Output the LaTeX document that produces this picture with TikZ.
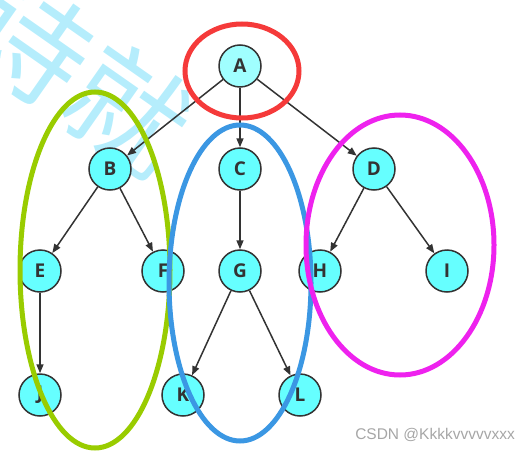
\documentclass[tikz,border=0pt]{standalone}
\usepackage{fontspec}
\setmainfont{Open Sans}
\newfontfamily\cjk{Noto Sans CJK SC}
\newfontfamily\wmfont{Liberation Sans}
\usetikzlibrary{arrows.meta}
\definecolor{nodefill}{HTML}{66FFFF}
\definecolor{rootfill}{HTML}{A0FFFF}
\definecolor{edgecol}{HTML}{333333}
\definecolor{redring}{HTML}{F53A3A}
\definecolor{greenring}{HTML}{99CC00}
\definecolor{bluering}{HTML}{3B97E3}
\definecolor{magring}{HTML}{EE22EE}
\definecolor{wmblue}{HTML}{B5EDFC}
\tikzset{
  vertex/.style={circle, draw=edgecol, line width=1.5pt, fill=nodefill,
    minimum size=42pt, inner sep=0pt, font=\bfseries\fontsize{19}{19}\selectfont, text=edgecol},
  edge/.style={draw=edgecol, line width=1.5pt, -{Triangle[length=9pt,width=7pt]}},
  ring/.style={line width=5pt},
}
\begin{document}
\begin{tikzpicture}[x=1pt,y=-1pt]
\useasboundingbox (0,0) rectangle (532,452);
\begin{scope}
\clip (0,0) rectangle (532,452);
\node[text=wmblue, rotate=-35, inner sep=0pt, font=\cjk\fontsize{120}{120}\selectfont] (wm) at (80,75) {诗就};
\end{scope}
\node[vertex, fill=rootfill] (A) at (240,66) {A};
\node[vertex] (B) at (110,169) {B};
\node[vertex] (C) at (240,169) {C};
\node[vertex] (D) at (374,169) {D};
\node[vertex] (E) at (40,271) {E};
\node[vertex] (F) at (163,271) {F};
\node[vertex] (G) at (240,271) {G};
\node[vertex] (H) at (320,271) {H};
\node[vertex] (I) at (447,271) {I};
\node[vertex] (J) at (40,395) {J};
\node[vertex] (K) at (183,395) {K};
\node[vertex] (L) at (300,395) {L};
\draw[edge] (A) -- (B);
\draw[edge] (A) -- (C);
\draw[edge] (A) -- (D);
\draw[edge] (B) -- (E);
\draw[edge] (B) -- (F);
\draw[edge] (C) -- (G);
\draw[edge] (D) -- (H);
\draw[edge] (D) -- (I);
\draw[edge] (E) -- (J);
\draw[edge] (G) -- (K);
\draw[edge] (G) -- (L);
\draw[ring, redring] (242,71) ellipse [x radius=57, y radius=47];
\draw[ring, greenring] (95,270) ellipse [x radius=75, y radius=178];
\draw[ring, bluering] (240,283) ellipse [x radius=71, y radius=158];
\draw[ring, magring] (400,245) ellipse [x radius=94, y radius=130];
\node[text=gray!70, font=\wmfont\fontsize{15.5}{15.5}\selectfont, anchor=east, inner sep=0pt] (csdn) at (515,435) {CSDN @Kkkkvvvvvxxx};
\end{tikzpicture}
\end{document}
